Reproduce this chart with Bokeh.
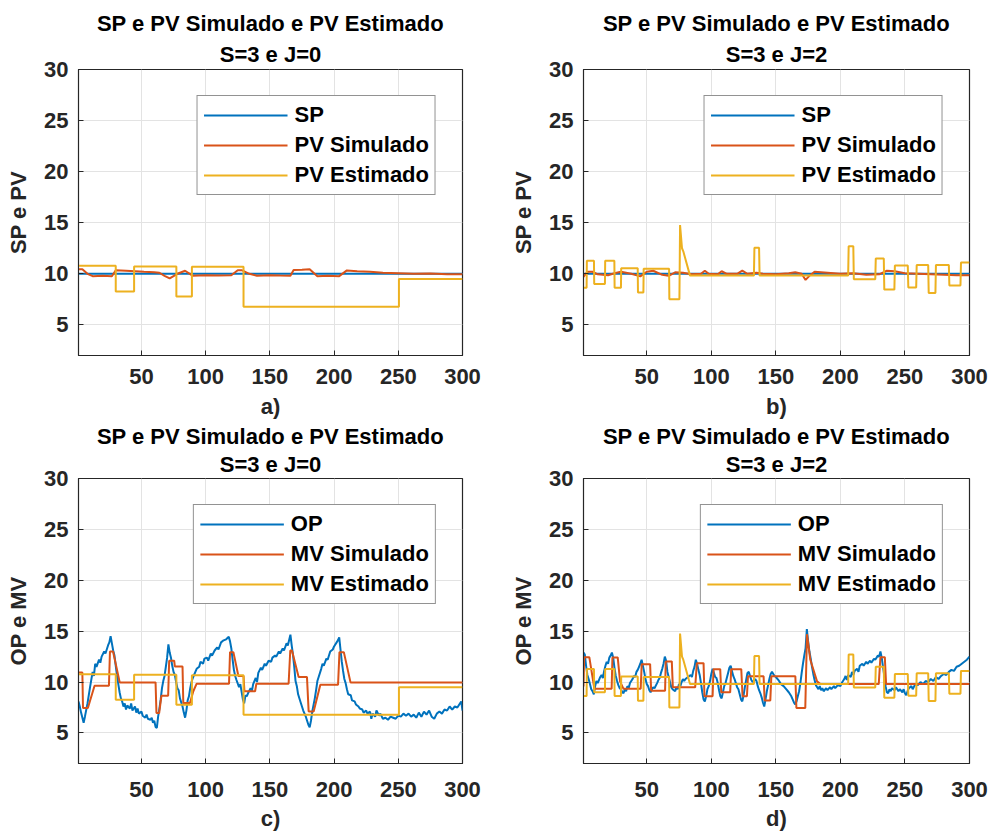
from bokeh.plotting import figure
from bokeh.layouts import column, row
from bokeh.models import Range1d, FixedTicker, Title, Legend, LegendItem
from bokeh.embed import file_html
from bokeh.resources import INLINE

# ---------------- data ----------------
# a) SP, PV Simulado, PV Estimado  (S=3, J=0)
sp_x = [1, 300]
sp_y = [10, 10]

pv_sim_a_x = [1, 4, 8, 12, 20, 27, 30, 38, 45, 52, 60, 64, 68, 72, 78, 84, 90, 100, 110, 120, 125, 128, 134, 140, 150, 158, 166, 168.5, 175, 181, 187, 195, 204, 210, 218, 228, 238, 250, 262, 275, 288, 300]
pv_sim_a_y = [10.45, 10.45, 10.0, 9.77, 9.8, 9.75, 10.35, 10.3, 10.25, 10.2, 10.15, 10.1, 9.8, 9.55, 10.0, 10.3, 9.8, 9.85, 9.82, 9.85, 10.35, 10.35, 10.0, 9.8, 9.85, 9.82, 9.8, 10.36, 10.4, 10.45, 9.77, 9.8, 9.77, 10.33, 10.25, 10.2, 10.1, 10.05, 10.0, 10.02, 9.95, 9.95]

est_j0_x = [1, 30, 44.3, 77.2, 89.3, 129.5, 250.5, 300]
est_j0_y = [10.78, 8.27, 10.72, 7.78, 10.68, 6.78, 9.49, 9.49]

# b) S=3, J=2
pv_sim_b_x = [1, 4, 8, 12, 20, 25, 30, 38, 45, 50, 55, 62, 67, 72, 78, 85, 92, 95, 98, 105, 108, 112, 120, 124, 128, 135, 140, 150, 160, 165, 170, 173, 176, 180, 190, 200, 210, 220, 230, 236, 242, 250, 260, 270, 280, 290, 300]
pv_sim_b_y = [9.7, 10.2, 10.2, 9.95, 9.85, 10.05, 10.2, 10.0, 9.75, 10.2, 10.3, 9.9, 9.8, 10.15, 10.1, 9.95, 10.0, 10.3, 10.0, 9.95, 10.25, 10.0, 10.0, 10.3, 10.0, 10.1, 10.0, 9.95, 10.05, 10.15, 10.0, 9.4, 9.8, 10.2, 10.1, 10.0, 10.05, 9.9, 9.95, 10.3, 10.25, 10.05, 10.0, 9.95, 9.9, 9.85, 9.85]

est_j2_x = [1, 3.4, 3.6, 9.1, 9.3, 17.6, 17.8, 24.9, 25.1, 30, 30.2, 43, 43.2, 47.4, 47.6, 67.3, 67.5, 75.3, 75.8, 77.3, 78.3, 83.5, 133, 133.4, 137, 137.4, 206, 206.4, 210, 210.4, 227, 227.4, 233.6, 234, 241.8, 242.2, 252.2, 252.6, 258.7, 259.1, 268, 268.4, 273.6, 274, 284, 284.4, 293, 293.4, 300]
est_j2_y = [8.64, 8.64, 11.28, 11.28, 9.0, 9.0, 11.28, 11.28, 8.64, 8.64, 10.55, 10.55, 8.16, 8.16, 10.5, 10.5, 7.5, 7.5, 14.77, 12.5, 12.2, 9.82, 9.82, 12.55, 12.55, 9.82, 9.82, 12.7, 12.7, 9.46, 9.46, 11.5, 11.5, 8.45, 8.45, 10.8, 10.8, 8.65, 8.65, 10.86, 10.86, 8.13, 8.13, 10.86, 10.86, 8.85, 8.85, 11.1, 11.1]

# c) OP, MV Simulado, MV Estimado (S=3, J=0)
op_c_x = [1, 2, 3, 5, 6, 8, 10, 12, 13, 14, 15, 17, 18, 19, 21, 22, 24, 25, 26, 27, 28, 29, 31, 32, 33, 34, 35, 36, 37, 38, 39, 41, 42, 43, 45, 46, 47, 48, 50, 51, 53, 54, 55, 57, 58, 59, 60, 61, 62, 63, 64, 65, 66, 67, 68, 69, 70, 71, 72, 73, 74, 75, 76, 77, 78, 79, 80, 82, 83, 84, 85, 86, 87, 88, 89, 90, 92, 93, 95, 96, 98, 99, 101, 102, 104, 105, 107, 109, 110, 112, 114, 116, 118, 119, 120, 121, 122, 123, 124, 126, 127, 129, 130, 131, 132, 133, 135, 136, 137, 139, 140, 141, 143, 144, 146, 147, 149, 151, 152, 154, 155, 157, 158, 160, 161, 163, 164, 166, 167, 168, 169, 170, 171, 172, 174, 176, 178, 180, 181, 182, 183, 185, 186, 187, 188, 190, 191, 192, 194, 195, 197, 199, 200, 202, 203, 204, 205, 206, 207, 208, 209, 210, 211, 213, 214, 216, 217, 219, 220, 222, 223, 225, 226, 228, 229, 230, 232, 233, 235, 236, 238, 240, 242, 244, 246, 248, 250, 252, 254, 256, 258, 260, 262, 264, 266, 268, 270, 272, 274, 276, 278, 280, 282, 284, 286, 288, 290, 292, 294, 296, 298, 299, 300]
op_c_y = [8.1, 7.6, 7.0, 6.0, 6.6, 7.9, 9.5, 11.0, 10.6, 11.8, 11.5, 12.2, 11.9, 12.5, 13.0, 12.8, 13.6, 13.9, 14.5, 13.8, 13.1, 12.6, 10.6, 9.8, 9.0, 8.4, 8.1, 7.6, 7.9, 7.3, 7.7, 7.4, 7.9, 7.2, 7.6, 7.0, 7.4, 6.9, 7.1, 6.7, 6.5, 6.8, 6.4, 6.3, 6.5, 6.0, 6.2, 5.6, 5.5, 6.6, 7.4, 8.3, 9.4, 10.1, 10.6, 11.5, 12.4, 13.7, 12.9, 12.4, 11.6, 11.0, 10.7, 10.0, 9.4, 9.2, 8.4, 7.6, 7.0, 6.5, 7.2, 8.2, 8.6, 9.4, 10.0, 10.4, 11.0, 11.3, 11.5, 12.0, 11.8, 12.3, 12.4, 12.1, 12.8, 12.6, 13.1, 13.4, 13.2, 13.9, 14.1, 14.2, 14.45, 14.0, 13.3, 12.2, 11.2, 10.6, 10.2, 9.5, 9.8, 8.3, 7.9, 8.7, 8.6, 8.9, 9.4, 9.1, 9.8, 10.4, 10.0, 10.9, 11.4, 11.2, 11.8, 11.6, 12.1, 12.0, 12.4, 12.6, 12.5, 13.0, 12.8, 13.3, 13.1, 13.8, 13.6, 14.65, 13.6, 12.7, 11.5, 10.1, 9.6, 8.8, 8.0, 7.2, 6.6, 5.8, 5.56, 6.2, 7.1, 8.4, 9.2, 10.1, 10.5, 11.3, 11.8, 11.6, 12.3, 12.2, 13.0, 13.2, 13.5, 13.9, 14.1, 14.4, 13.2, 12.0, 11.1, 10.3, 9.9, 9.3, 8.8, 8.7, 8.2, 8.1, 7.8, 7.6, 7.4, 7.3, 7.0, 7.2, 6.9, 7.1, 6.4, 6.9, 6.6, 7.2, 6.7, 6.9, 6.4, 6.5, 6.3, 6.6, 6.5, 6.4, 6.7, 6.6, 6.9, 6.7, 6.9, 6.6, 6.8, 6.5, 7.0, 6.6, 7.1, 6.8, 7.2, 6.6, 6.4, 6.9, 7.1, 6.9, 7.3, 7.2, 7.6, 7.3, 7.6, 7.5, 7.9, 8.1, 7.2]

mv_sim_c_x = [1, 4, 4.5, 8.3, 13.5, 24.7, 25.5, 27.9, 33.1, 61, 61.7, 63.8, 65.6, 70.8, 71.6, 75.5, 76, 82, 82.6, 87.8, 90.4, 93, 118.2, 119, 121.6, 125.5, 129.5, 130.2, 138.5, 139.5, 164.6, 165.9, 167.2, 172.4, 178.9, 180.2, 184.1, 189.3, 203.1, 204.2, 207.6, 212.8, 300]
mv_sim_c_y = [10.95, 10.95, 7.45, 7.45, 9.64, 9.64, 13.0, 13.0, 9.97, 9.97, 6.96, 6.96, 8.66, 8.66, 12.1, 12.1, 11.54, 11.54, 7.94, 7.94, 9.1, 9.84, 9.84, 12.94, 12.94, 10.6, 10.6, 9.1, 9.1, 9.84, 9.84, 13.1, 13.1, 10.49, 10.49, 7.12, 7.12, 9.74, 9.74, 12.94, 12.94, 9.97, 9.97]

# d) OP, MV Simulado, MV Estimado (S=3, J=2)
op_d_x = [1, 2, 3, 4, 5, 6, 7, 8, 9, 10, 11, 12, 14, 15, 16, 17, 18, 19, 20, 21, 22, 23, 24, 25, 26, 27, 28, 29, 30, 31, 32, 33, 34, 35, 36, 37, 39, 40, 41, 42, 43, 44, 45, 46, 47, 48, 49, 50, 51, 52, 53, 54, 55, 56, 58, 59, 60, 61, 62, 63, 64, 65, 66, 67, 68, 69, 70, 71, 72, 73, 74, 75, 76, 77, 78, 79, 80, 82, 84, 85, 86, 87, 88, 89, 90, 91, 92, 93, 94, 95, 96, 97, 98, 99, 100, 101, 102, 103, 104, 105, 106, 107, 108, 109, 110, 111, 112, 113, 114, 115, 116, 117, 118, 119, 120, 121, 122, 123, 124, 125, 126, 127, 128, 129, 130, 131, 132, 133, 134, 135, 136, 137, 138, 139, 140, 141, 142, 143, 144, 145, 146, 147, 148, 149, 150, 152, 154, 156, 158, 160, 162, 163, 164, 165, 166, 167, 168, 169, 170, 171, 172, 173, 174, 175, 176, 177, 178, 179, 180, 181, 182, 183, 184, 185, 186, 187, 189, 190, 192, 193, 195, 196, 198, 200, 201, 203, 204, 205, 206, 208, 209, 210, 211, 213, 214, 215, 217, 218, 220, 221, 223, 224, 226, 227, 229, 230, 231, 232, 233, 234, 235, 236, 237, 238, 239, 240, 242, 243, 245, 246, 248, 249, 250, 251, 252, 253, 255, 256, 258, 260, 262, 264, 266, 268, 270, 272, 274, 276, 278, 280, 282, 284, 286, 288, 290, 292, 294, 296, 298, 300]
op_d_y = [12.9, 12.7, 11.6, 10.7, 10.3, 9.8, 9.3, 9.1, 8.8, 9.6, 10.1, 9.9, 10.5, 10.7, 10.4, 11.1, 11.6, 12.0, 11.8, 12.4, 12.6, 12.9, 12.4, 11.4, 10.6, 10.1, 9.7, 9.4, 9.3, 9.0, 8.9, 9.3, 9.1, 9.6, 9.4, 9.9, 10.3, 10.6, 10.5, 11.0, 11.2, 11.5, 11.8, 12.2, 11.6, 11.0, 10.3, 9.8, 9.6, 9.2, 9.0, 9.3, 9.5, 9.4, 9.9, 10.2, 10.4, 10.9, 11.3, 11.8, 12.5, 12.1, 11.0, 10.5, 10.0, 9.5, 9.3, 9.2, 9.1, 9.5, 9.3, 9.8, 9.6, 10.0, 10.3, 10.1, 10.3, 10.5, 10.7, 10.5, 11.1, 11.5, 12.2, 11.8, 11.2, 10.7, 9.9, 9.0, 8.3, 8.1, 8.6, 9.3, 9.6, 10.1, 10.8, 11.3, 10.9, 10.5, 10.4, 9.9, 9.2, 8.6, 8.4, 9.0, 9.6, 9.9, 10.4, 10.9, 11.4, 11.6, 11.1, 10.6, 10.3, 9.9, 9.5, 9.3, 8.8, 8.3, 8.1, 8.7, 9.5, 10.2, 10.9, 11.0, 10.6, 10.2, 10.0, 10.1, 10.3, 10.1, 9.6, 9.2, 8.9, 8.5, 8.0, 7.6, 8.3, 9.1, 9.7, 10.3, 10.8, 11.0, 10.8, 10.6, 10.5, 10.2, 9.8, 9.6, 9.3, 9.0, 8.6, 8.3, 8.0, 7.8, 8.1, 8.6, 9.1, 9.9, 10.9, 11.8, 12.6, 13.3, 15.2, 14.0, 13.0, 12.3, 11.5, 10.8, 10.2, 9.7, 9.5, 9.3, 9.6, 9.2, 9.4, 9.1, 9.4, 9.2, 9.5, 9.3, 9.6, 9.4, 9.7, 9.6, 9.9, 10.3, 10.6, 10.2, 10.7, 10.5, 11.0, 10.7, 11.1, 11.3, 11.0, 11.6, 11.8, 11.6, 12.0, 11.8, 12.1, 11.9, 12.3, 12.2, 12.6, 12.5, 13.0, 12.4, 11.5, 10.6, 9.6, 9.0, 8.9, 9.3, 9.1, 9.4, 9.2, 9.5, 9.1, 9.3, 9.0, 9.3, 8.9, 8.7, 9.1, 9.4, 9.6, 9.3, 9.8, 9.7, 10.0, 9.8, 10.1, 10.0, 10.3, 10.1, 10.5, 10.3, 10.6, 10.8, 10.7, 11.0, 11.2, 11.1, 11.5, 11.6, 11.8, 12.0, 12.2, 12.5]

mv_sim_d_x = [1, 1.5, 5.5, 9.4, 22.8, 23.4, 27.5, 29.3, 31.9, 45.3, 46.1, 52.6, 53.4, 64.2, 64.7, 69.4, 70.2, 87.5, 88.8, 94, 94.7, 101, 101.7, 106.9, 107.7, 114.6, 115.4, 123.2, 124.2, 127.6, 128.4, 140.5, 141.3, 145.7, 146.5, 165.1, 165.9, 172.8, 174.1, 176.7, 181.9, 184.5, 229.7, 231, 234.4, 235.4, 300]
mv_sim_d_y = [9.57, 12.45, 12.45, 9.35, 9.35, 12.42, 12.42, 10.07, 9.35, 9.35, 11.76, 11.76, 9.15, 9.15, 12.03, 12.03, 9.48, 9.48, 11.86, 11.86, 8.6, 8.6, 11.27, 11.27, 8.99, 8.99, 11.27, 11.27, 8.6, 8.6, 10.56, 10.56, 8.2, 8.2, 10.56, 10.56, 7.45, 7.45, 14.7, 12.19, 10.07, 9.8, 9.8, 12.45, 12.45, 9.8, 9.8]

x_ticks = [50, 100, 150, 200, 250, 300]
y_ticks = [5, 10, 15, 20, 25, 30]

title_1 = "SP e PV Simulado e PV Estimado"
sub_titles = ["S=3 e J=0", "S=3 e J=2", "S=3 e J=0", "S=3 e J=2"]
panel_labels = ["a)", "b)", "c)", "d)"]
y_labels = ["SP e PV", "SP e PV", "OP e MV", "OP e MV"]
leg_top = ["SP", "PV Simulado", "PV Estimado"]
leg_bot = ["OP", "MV Simulado", "MV Estimado"]

# ---------------- style ----------------
BLUE = "#0072BD"
RED = "#D95319"
YEL = "#EDB120"
FONT = "Liberation Sans"
FS = "22px"
AX = "#262626"
GRID = "#e3e3e3"


def make_fig(idx, w, h, bl, br, bt, bb, near_so, far_so, tick_so, lab_so, series, labels):
    p = figure(width=w, height=h, x_range=Range1d(1, 300), y_range=Range1d(2, 30),
               output_backend="svg", toolbar_location=None,
               min_border_left=bl, min_border_right=br, min_border_top=bt, min_border_bottom=bb)
    p.background_fill_color = "white"
    p.border_fill_color = "white"
    p.outline_line_color = AX
    p.outline_line_width = 1.2

    # two-line title: p.title sits farthest from the frame, the added Title nearest
    p.title.text = title_1
    p.title.align = "center"
    p.title.text_font = FONT
    p.title.text_font_size = FS
    p.title.text_font_style = "bold"
    p.title.text_color = "black"
    p.title.standoff = far_so
    t2 = Title(text=sub_titles[idx], align="center", text_font=FONT, text_font_size=FS,
               text_font_style="bold", text_color="black", standoff=near_so)
    p.add_layout(t2, "above")

    for ax in (p.xaxis[0], p.yaxis[0]):
        ax.major_label_text_font = FONT
        ax.major_label_text_font_size = FS
        ax.major_label_text_font_style = "bold"
        ax.major_label_text_color = AX
        ax.axis_label_text_font = FONT
        ax.axis_label_text_font_size = FS
        ax.axis_label_text_font_style = "bold"
        ax.axis_label_text_color = AX
        ax.axis_line_color = AX
        ax.major_tick_line_color = AX
        ax.major_tick_in = 5
        ax.major_tick_out = 0
        ax.minor_tick_line_color = None
    p.xaxis[0].ticker = FixedTicker(ticks=x_ticks)
    p.yaxis[0].ticker = FixedTicker(ticks=y_ticks)
    p.xaxis[0].axis_label = panel_labels[idx]
    p.yaxis[0].axis_label = y_labels[idx]
    p.xaxis[0].major_label_standoff = tick_so
    p.xaxis[0].axis_label_standoff = lab_so
    p.yaxis[0].major_label_standoff = 10
    p.yaxis[0].axis_label_standoff = 10

    p.xgrid.ticker = FixedTicker(ticks=x_ticks)
    p.ygrid.ticker = FixedTicker(ticks=y_ticks)
    p.grid.grid_line_color = GRID
    p.grid.grid_line_width = 1

    renderers = []
    for (xs, ys, col, mode) in series:
        if mode == "step":
            r = p.step(xs, ys, mode="after", line_color=col, line_width=2)
        else:
            r = p.line(xs, ys, line_color=col, line_width=2)
        renderers.append(r)

    items = [LegendItem(label=lab, renderers=[r]) for lab, r in zip(labels, renderers)]
    leg = Legend(items=items, location="top_right", margin=26, padding=6,
                 spacing=4, glyph_width=84, glyph_height=24, label_height=24,
                 label_standoff=7, label_text_font=FONT, label_text_font_size=FS,
                 label_text_font_style="bold", label_text_color="black",
                 border_line_color=AX, border_line_width=1.2,
                 background_fill_color="white", background_fill_alpha=1)
    p.add_layout(leg)
    return p


pa = make_fig(0, 494, 421, 78, 32, 69, 65, 6, 2, 13, 7,
              [(sp_x, sp_y, BLUE, "line"), (pv_sim_a_x, pv_sim_a_y, RED, "line"),
               (est_j0_x, est_j0_y, YEL, "step")], leg_top)
pb = make_fig(1, 495, 421, 89, 20, 69, 65, 6, 2, 13, 7,
              [(sp_x, sp_y, BLUE, "line"), (pv_sim_b_x, pv_sim_b_y, RED, "line"),
               (est_j2_x, est_j2_y, YEL, "line")], leg_top)
pc = make_fig(2, 494, 412, 78, 32, 57, 69, 3, 0, 18, 6,
              [(op_c_x, op_c_y, BLUE, "line"), (mv_sim_c_x, mv_sim_c_y, RED, "line"),
               (est_j0_x, est_j0_y, YEL, "step")], leg_bot)
pd = make_fig(3, 495, 412, 89, 20, 57, 69, 3, 0, 18, 6,
              [(op_d_x, op_d_y, BLUE, "line"), (mv_sim_d_x, mv_sim_d_y, RED, "line"),
               (est_j2_x, est_j2_y, YEL, "line")], leg_bot)

layout = column(row(pa, pb, spacing=0), row(pc, pd, spacing=0), spacing=0)
open("out.html", "w").write(file_html(layout, INLINE))
